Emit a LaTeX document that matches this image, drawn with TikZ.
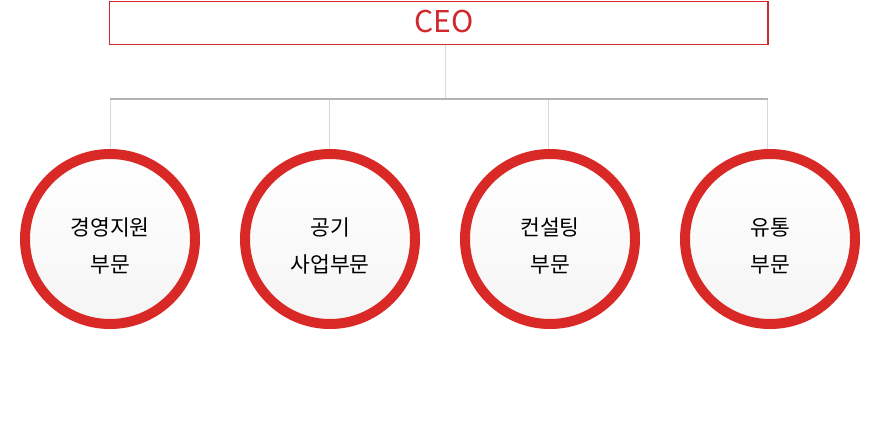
\documentclass[tikz,border=0pt]{standalone}
\usepackage{fontspec}
\setmainfont{Noto Sans CJK KR}
\begin{document}
\begin{tikzpicture}[x=1pt,y=-1pt,
  ceobox/.style={draw=ceored,line width=1.3pt,rectangle,minimum width=658.5pt,minimum height=43pt,inner sep=0pt},
  ceotxt/.style={text=ceored,font=\fontsize{30}{32}\selectfont,inner sep=0pt},
  dept/.style={circle,draw=ringred,line width=10pt,minimum size=170pt,inner sep=0pt,top color=white,bottom color=black!4,shading angle=0},
  depttxt/.style={align=center,text=black,font=\fontsize{21.5}{37}\selectfont,inner sep=0pt},
  bus/.style={draw=black!30,line width=1.2pt},
  drop/.style={draw=black!15,line width=1pt}]
\definecolor{ceored}{RGB}{208,40,43}
\definecolor{ringred}{RGB}{217,41,38}
\useasboundingbox (0,0) rectangle (880,440);
\fill[white] (0,0) rectangle (880,440);
% CEO
\node[ceobox] (ceo) at (438.75,23) {};
\node[ceotxt] (ceolabel) at (444,22) {CEO};
% departments
\node[dept] (d1) at (110,239) {};
\node[dept] (d2) at (330,239) {};
\node[dept] (d3) at (550,239) {};
\node[dept] (d4) at (770,239) {};
\node[depttxt] (t1) at (110,246) {경영지원\\부문};
\node[depttxt] (t2) at (330,246) {공기\\사업부문};
\node[depttxt] (t3) at (550,246) {컨설팅\\부문};
\node[depttxt] (t4) at (770,246) {유통\\부문};
% bus coordinates
\coordinate (cj) at (445,99);
\coordinate (b1) at (110,99);
\coordinate (b2) at (329.5,99);
\coordinate (b3) at (548.5,99);
\coordinate (b4) at (767.5,99);
\coordinate (ct) at (445,45);
% connectors
\draw[drop] (ct) -- (cj);
\draw[drop] (b1) -- (b1 |- d1.north);
\draw[drop] (b2) -- (b2 |- d2.north);
\draw[drop] (b3) -- (b3 |- d3.north);
\draw[drop] (b4) -- (b4 |- d4.north);
\draw[bus] (b1) -- (b4);
\end{tikzpicture}
\end{document}
